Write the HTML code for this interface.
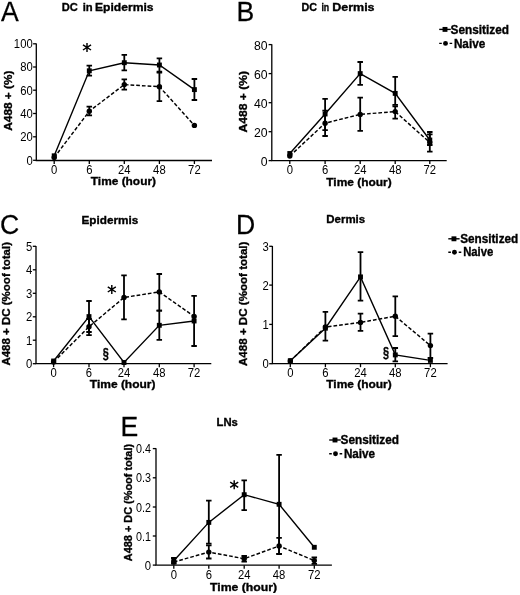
<!DOCTYPE html><html><head><meta charset="utf-8"><style>html,body{margin:0;padding:0;background:#fff;width:520px;height:595px;overflow:hidden}svg{display:block;filter:grayscale(1)}text{font-family:"Liberation Sans", sans-serif;fill:#000}text[font-weight=bold]{stroke:#000;stroke-width:0.35px}</style></head><body>
<svg width="520" height="595" viewBox="0 0 520 595">
<path d="M36.3 43.5V160.5H212" fill="none" stroke="#000" stroke-width="1.3"/>
<path d="M33.1 43.8H36.3" stroke="#000" stroke-width="1.3"/>
<g transform="translate(32.7,0) scale(0.83,1) translate(-32.7,0)">
<text x="32.7" y="48.3" font-size="13.6" text-anchor="end" >100</text>
</g>
<path d="M33.1 67H36.3" stroke="#000" stroke-width="1.3"/>
<g transform="translate(32.7,0) scale(0.83,1) translate(-32.7,0)">
<text x="32.7" y="71.5" font-size="13.6" text-anchor="end" >80</text>
</g>
<path d="M33.1 90.2H36.3" stroke="#000" stroke-width="1.3"/>
<g transform="translate(32.7,0) scale(0.83,1) translate(-32.7,0)">
<text x="32.7" y="94.7" font-size="13.6" text-anchor="end" >60</text>
</g>
<path d="M33.1 113.5H36.3" stroke="#000" stroke-width="1.3"/>
<g transform="translate(32.7,0) scale(0.83,1) translate(-32.7,0)">
<text x="32.7" y="118" font-size="13.6" text-anchor="end" >40</text>
</g>
<path d="M33.1 136.8H36.3" stroke="#000" stroke-width="1.3"/>
<g transform="translate(32.7,0) scale(0.83,1) translate(-32.7,0)">
<text x="32.7" y="141.3" font-size="13.6" text-anchor="end" >20</text>
</g>
<path d="M33.1 160.3H36.3" stroke="#000" stroke-width="1.3"/>
<g transform="translate(32.7,0) scale(0.83,1) translate(-32.7,0)">
<text x="32.7" y="164.8" font-size="13.6" text-anchor="end" >0</text>
</g>
<path d="M54.2 160.5V164" stroke="#000" stroke-width="1.3"/>
<g transform="translate(54.2,0) scale(0.83,1) translate(-54.2,0)">
<text x="54.2" y="173.9" font-size="13.6" text-anchor="middle" >0</text>
</g>
<path d="M89.3 160.5V164" stroke="#000" stroke-width="1.3"/>
<g transform="translate(89.3,0) scale(0.83,1) translate(-89.3,0)">
<text x="89.3" y="173.9" font-size="13.6" text-anchor="middle" >6</text>
</g>
<path d="M124.3 160.5V164" stroke="#000" stroke-width="1.3"/>
<g transform="translate(124.3,0) scale(0.83,1) translate(-124.3,0)">
<text x="124.3" y="173.9" font-size="13.6" text-anchor="middle" >24</text>
</g>
<path d="M159.4 160.5V164" stroke="#000" stroke-width="1.3"/>
<g transform="translate(159.4,0) scale(0.83,1) translate(-159.4,0)">
<text x="159.4" y="173.9" font-size="13.6" text-anchor="middle" >48</text>
</g>
<path d="M194.4 160.5V164" stroke="#000" stroke-width="1.3"/>
<g transform="translate(194.4,0) scale(0.83,1) translate(-194.4,0)">
<text x="194.4" y="173.9" font-size="13.6" text-anchor="middle" >72</text>
</g>
<text x="123.4" y="185.3" font-size="11.5" font-weight="bold" text-anchor="middle" textLength="65.2" lengthAdjust="spacingAndGlyphs" >Time (hour)</text>
<g transform="translate(12.3,100.65) rotate(-90)">
<text x="0" y="0" font-size="11.5" font-weight="bold" text-anchor="middle" textLength="60.1" lengthAdjust="spacingAndGlyphs">A488 + (%)</text>
</g>
<g transform="translate(1,21) scale(0.95,1)"><text x="0" y="0" font-size="28" stroke="#000" stroke-width="0.25">A</text></g>
<text x="61.8" y="10.9" font-size="11.5" font-weight="bold" textLength="16.1" lengthAdjust="spacingAndGlyphs">DC</text>
<text x="82.7" y="10.9" font-size="11.5" font-weight="bold" textLength="10" lengthAdjust="spacingAndGlyphs">in</text>
<text x="95" y="10.9" font-size="11.5" font-weight="bold" textLength="58.6" lengthAdjust="spacingAndGlyphs">Epidermis</text>
<path d="M54.2 157.5 L89.3 111.2 L124.3 84.6 L159.4 86.7 L194.4 125.4" fill="none" stroke="#000" stroke-width="1.45" stroke-dasharray="3.7 2.0"/>
<path d="M54.2 155.8 L89.3 70.8 L124.3 62.7 L159.4 65 L194.4 89.6" fill="none" stroke="#000" stroke-width="1.4"/>
<circle cx="54.2" cy="157.5" r="2.7"/>
<path d="M89.3 106.7V115.4M86.55 106.7H92.05M86.55 115.4H92.05" stroke="#000" stroke-width="1.8" fill="none"/>
<circle cx="89.3" cy="111.2" r="2.7"/>
<path d="M124.3 79.4V89.6M121.55 79.4H127.05M121.55 89.6H127.05" stroke="#000" stroke-width="1.8" fill="none"/>
<circle cx="124.3" cy="84.6" r="2.7"/>
<path d="M159.4 71.7V101.2M156.65 71.7H162.15M156.65 101.2H162.15" stroke="#000" stroke-width="1.8" fill="none"/>
<circle cx="159.4" cy="86.7" r="2.7"/>
<circle cx="194.4" cy="125.4" r="2.7"/>
<rect x="51.75" y="153.35" width="4.9" height="4.9"/>
<path d="M89.3 65.6V75.6M86.55 65.6H92.05M86.55 75.6H92.05" stroke="#000" stroke-width="1.8" fill="none"/>
<rect x="86.85" y="68.35" width="4.9" height="4.9"/>
<path d="M124.3 54.8V70.4M121.55 54.8H127.05M121.55 70.4H127.05" stroke="#000" stroke-width="1.8" fill="none"/>
<rect x="121.85" y="60.25" width="4.9" height="4.9"/>
<path d="M159.4 58.3V72.7M156.65 58.3H162.15M156.65 72.7H162.15" stroke="#000" stroke-width="1.8" fill="none"/>
<rect x="156.95" y="62.55" width="4.9" height="4.9"/>
<path d="M194.4 79V100M191.65 79H197.15M191.65 100H197.15" stroke="#000" stroke-width="1.8" fill="none"/>
<rect x="191.95" y="87.15" width="4.9" height="4.9"/>
<path d="M87 42.9V51.9M82.97 44.79L91.03 50.01M82.97 50.01L91.03 44.79" stroke="#000" stroke-width="1.45" fill="none"/>
<path d="M271.8 44.3V160.6H446.7" fill="none" stroke="#000" stroke-width="1.3"/>
<path d="M268.6 44.6H271.8" stroke="#000" stroke-width="1.3"/>
<g transform="translate(267.6,0) scale(0.9,1) translate(-267.6,0)">
<text x="267.6" y="50" font-size="13.6" text-anchor="end" >80</text>
</g>
<path d="M268.6 73.6H271.8" stroke="#000" stroke-width="1.3"/>
<g transform="translate(267.6,0) scale(0.9,1) translate(-267.6,0)">
<text x="267.6" y="79" font-size="13.6" text-anchor="end" >60</text>
</g>
<path d="M268.6 102.7H271.8" stroke="#000" stroke-width="1.3"/>
<g transform="translate(267.6,0) scale(0.9,1) translate(-267.6,0)">
<text x="267.6" y="108.1" font-size="13.6" text-anchor="end" >40</text>
</g>
<path d="M268.6 131.7H271.8" stroke="#000" stroke-width="1.3"/>
<g transform="translate(267.6,0) scale(0.9,1) translate(-267.6,0)">
<text x="267.6" y="137.1" font-size="13.6" text-anchor="end" >20</text>
</g>
<path d="M268.6 160.6H271.8" stroke="#000" stroke-width="1.3"/>
<g transform="translate(267.6,0) scale(0.9,1) translate(-267.6,0)">
<text x="267.6" y="166" font-size="13.6" text-anchor="end" >0</text>
</g>
<path d="M289.8 160.6V164.1" stroke="#000" stroke-width="1.3"/>
<g transform="translate(289.8,0) scale(0.83,1) translate(-289.8,0)">
<text x="289.8" y="174" font-size="13.6" text-anchor="middle" >0</text>
</g>
<path d="M325.1 160.6V164.1" stroke="#000" stroke-width="1.3"/>
<g transform="translate(325.1,0) scale(0.83,1) translate(-325.1,0)">
<text x="325.1" y="174" font-size="13.6" text-anchor="middle" >6</text>
</g>
<path d="M360.2 160.6V164.1" stroke="#000" stroke-width="1.3"/>
<g transform="translate(360.2,0) scale(0.83,1) translate(-360.2,0)">
<text x="360.2" y="174" font-size="13.6" text-anchor="middle" >24</text>
</g>
<path d="M395.2 160.6V164.1" stroke="#000" stroke-width="1.3"/>
<g transform="translate(395.2,0) scale(0.83,1) translate(-395.2,0)">
<text x="395.2" y="174" font-size="13.6" text-anchor="middle" >48</text>
</g>
<path d="M429.8 160.6V164.1" stroke="#000" stroke-width="1.3"/>
<g transform="translate(429.8,0) scale(0.83,1) translate(-429.8,0)">
<text x="429.8" y="174" font-size="13.6" text-anchor="middle" >72</text>
</g>
<text x="359" y="185.6" font-size="11.5" font-weight="bold" text-anchor="middle" textLength="65.5" lengthAdjust="spacingAndGlyphs" >Time (hour)</text>
<g transform="translate(247,101.7) rotate(-90)">
<text x="0" y="0" font-size="11.5" font-weight="bold" text-anchor="middle" textLength="61.4" lengthAdjust="spacingAndGlyphs">A488 + (%)</text>
</g>
<g transform="translate(236.5,20.8) scale(0.95,1)"><text x="0" y="0" font-size="28" stroke="#000" stroke-width="0.25">B</text></g>
<text x="301.4" y="10.9" font-size="11.5" font-weight="bold" textLength="15.5" lengthAdjust="spacingAndGlyphs">DC</text>
<text x="321.4" y="10.9" font-size="11.5" font-weight="bold" textLength="7.8" lengthAdjust="spacingAndGlyphs">in</text>
<text x="332.2" y="10.9" font-size="11.5" font-weight="bold" textLength="42.4" lengthAdjust="spacingAndGlyphs">Dermis</text>
<path d="M289.8 156 L325.1 123.2 L360.2 114.4 L395.2 111.6 L429.8 142.5" fill="none" stroke="#000" stroke-width="1.45" stroke-dasharray="3.7 2.0"/>
<path d="M289.8 153.5 L325.1 114 L360.2 73.6 L395.2 93.4 L429.8 140" fill="none" stroke="#000" stroke-width="1.4"/>
<circle cx="289.8" cy="156" r="2.7"/>
<path d="M325.1 110.6V136M322.35 110.6H327.85M322.35 136H327.85" stroke="#000" stroke-width="1.8" fill="none"/>
<circle cx="325.1" cy="123.2" r="2.7"/>
<path d="M360.2 97.6V130.8M357.45 97.6H362.95M357.45 130.8H362.95" stroke="#000" stroke-width="1.8" fill="none"/>
<circle cx="360.2" cy="114.4" r="2.7"/>
<path d="M395.2 106.4V118.7M392.45 106.4H397.95M392.45 118.7H397.95" stroke="#000" stroke-width="1.8" fill="none"/>
<circle cx="395.2" cy="111.6" r="2.7"/>
<path d="M429.8 134.3V145M427.05 134.3H432.55M427.05 145H432.55" stroke="#000" stroke-width="1.8" fill="none"/>
<circle cx="429.8" cy="142.5" r="2.7"/>
<rect x="287.35" y="151.05" width="4.9" height="4.9"/>
<path d="M325.1 98.9V130.2M322.35 98.9H327.85M322.35 130.2H327.85" stroke="#000" stroke-width="1.8" fill="none"/>
<rect x="322.65" y="111.55" width="4.9" height="4.9"/>
<path d="M360.2 62V84.9M357.45 62H362.95M357.45 84.9H362.95" stroke="#000" stroke-width="1.8" fill="none"/>
<rect x="357.75" y="71.15" width="4.9" height="4.9"/>
<path d="M395.2 76.8V104.8M392.45 76.8H397.95M392.45 104.8H397.95" stroke="#000" stroke-width="1.8" fill="none"/>
<rect x="392.75" y="90.95" width="4.9" height="4.9"/>
<path d="M429.8 132V151.7M427.05 132H432.55M427.05 151.7H432.55" stroke="#000" stroke-width="1.8" fill="none"/>
<rect x="427.35" y="137.55" width="4.9" height="4.9"/>
<path d="M36 246V363.7H211.3" fill="none" stroke="#000" stroke-width="1.3"/>
<path d="M32.8 246.3H36" stroke="#000" stroke-width="1.3"/>
<g transform="translate(32.4,0) scale(0.83,1) translate(-32.4,0)">
<text x="32.4" y="250.8" font-size="13.6" text-anchor="end" >5</text>
</g>
<path d="M32.8 269.8H36" stroke="#000" stroke-width="1.3"/>
<g transform="translate(32.4,0) scale(0.83,1) translate(-32.4,0)">
<text x="32.4" y="274.3" font-size="13.6" text-anchor="end" >4</text>
</g>
<path d="M32.8 293.3H36" stroke="#000" stroke-width="1.3"/>
<g transform="translate(32.4,0) scale(0.83,1) translate(-32.4,0)">
<text x="32.4" y="297.8" font-size="13.6" text-anchor="end" >3</text>
</g>
<path d="M32.8 316.8H36" stroke="#000" stroke-width="1.3"/>
<g transform="translate(32.4,0) scale(0.83,1) translate(-32.4,0)">
<text x="32.4" y="321.3" font-size="13.6" text-anchor="end" >2</text>
</g>
<path d="M32.8 340.2H36" stroke="#000" stroke-width="1.3"/>
<g transform="translate(32.4,0) scale(0.83,1) translate(-32.4,0)">
<text x="32.4" y="344.7" font-size="13.6" text-anchor="end" >1</text>
</g>
<path d="M32.8 363.7H36" stroke="#000" stroke-width="1.3"/>
<g transform="translate(32.4,0) scale(0.83,1) translate(-32.4,0)">
<text x="32.4" y="368.2" font-size="13.6" text-anchor="end" >0</text>
</g>
<path d="M53.6 363.7V367.2" stroke="#000" stroke-width="1.3"/>
<g transform="translate(53.6,0) scale(0.83,1) translate(-53.6,0)">
<text x="53.6" y="377.1" font-size="13.6" text-anchor="middle" >0</text>
</g>
<path d="M89 363.7V367.2" stroke="#000" stroke-width="1.3"/>
<g transform="translate(89,0) scale(0.83,1) translate(-89,0)">
<text x="89" y="377.1" font-size="13.6" text-anchor="middle" >6</text>
</g>
<path d="M124 363.7V367.2" stroke="#000" stroke-width="1.3"/>
<g transform="translate(124,0) scale(0.83,1) translate(-124,0)">
<text x="124" y="377.1" font-size="13.6" text-anchor="middle" >24</text>
</g>
<path d="M159.3 363.7V367.2" stroke="#000" stroke-width="1.3"/>
<g transform="translate(159.3,0) scale(0.83,1) translate(-159.3,0)">
<text x="159.3" y="377.1" font-size="13.6" text-anchor="middle" >48</text>
</g>
<path d="M194.1 363.7V367.2" stroke="#000" stroke-width="1.3"/>
<g transform="translate(194.1,0) scale(0.83,1) translate(-194.1,0)">
<text x="194.1" y="377.1" font-size="13.6" text-anchor="middle" >72</text>
</g>
<text x="122.65" y="388" font-size="11.5" font-weight="bold" text-anchor="middle" textLength="65.7" lengthAdjust="spacingAndGlyphs" >Time (hour)</text>
<g transform="translate(10.2,303.8) rotate(-90)">
<text x="0" y="0" font-size="11.5" font-weight="bold" text-anchor="middle" textLength="123.6" lengthAdjust="spacingAndGlyphs">A488 + DC  (%oof total)</text>
</g>
<g transform="translate(0,234) scale(0.95,1)"><text x="0" y="0" font-size="28" stroke="#000" stroke-width="0.25">C</text></g>
<text x="81.5" y="223.6" font-size="11.5" font-weight="bold" textLength="56.8" lengthAdjust="spacingAndGlyphs">Epidermis</text>
<path d="M53.6 362 L89 326.8 L124 297.5 L159.3 291.9 L194.1 316.4" fill="none" stroke="#000" stroke-width="1.45" stroke-dasharray="3.7 2.0"/>
<path d="M53.6 361 L89 316.6 L124 362.5 L159.3 325.3 L194.1 321" fill="none" stroke="#000" stroke-width="1.4"/>
<circle cx="53.6" cy="362" r="2.7"/>
<path d="M89 319V335.1M86.25 319H91.75M86.25 335.1H91.75" stroke="#000" stroke-width="1.8" fill="none"/>
<circle cx="89" cy="326.8" r="2.7"/>
<path d="M124 275.4V319.4M121.25 275.4H126.75M121.25 319.4H126.75" stroke="#000" stroke-width="1.8" fill="none"/>
<circle cx="124" cy="297.5" r="2.7"/>
<path d="M159.3 274V310.7M156.55 274H162.05M156.55 310.7H162.05" stroke="#000" stroke-width="1.8" fill="none"/>
<circle cx="159.3" cy="291.9" r="2.7"/>
<circle cx="194.1" cy="316.4" r="2.7"/>
<rect x="51.15" y="358.55" width="4.9" height="4.9"/>
<path d="M89 301V332M86.25 301H91.75M86.25 332H91.75" stroke="#000" stroke-width="1.8" fill="none"/>
<rect x="86.55" y="314.15" width="4.9" height="4.9"/>
<rect x="121.55" y="360.05" width="4.9" height="4.9"/>
<path d="M159.3 310.7V339.9M156.55 310.7H162.05M156.55 339.9H162.05" stroke="#000" stroke-width="1.8" fill="none"/>
<rect x="156.85" y="322.85" width="4.9" height="4.9"/>
<path d="M194.1 295.9V346M191.35 295.9H196.85M191.35 346H196.85" stroke="#000" stroke-width="1.8" fill="none"/>
<rect x="191.65" y="318.55" width="4.9" height="4.9"/>
<path d="M111.8 284.9V293.9M107.77 286.79L115.83 292.01M107.77 292.01L115.83 286.79" stroke="#000" stroke-width="1.45" fill="none"/>
<g transform="translate(105.9,0) scale(0.75,1) translate(-105.9,0)">
<text x="105.9" y="357.9" font-size="14.5" font-weight="bold" text-anchor="middle" >&#167;</text>
</g>
<path d="M272.4 246V363.7H447.6" fill="none" stroke="#000" stroke-width="1.3"/>
<path d="M269.2 246.3H272.4" stroke="#000" stroke-width="1.3"/>
<g transform="translate(268.8,0) scale(0.83,1) translate(-268.8,0)">
<text x="268.8" y="250.8" font-size="13.6" text-anchor="end" >3</text>
</g>
<path d="M269.2 285.1H272.4" stroke="#000" stroke-width="1.3"/>
<g transform="translate(268.8,0) scale(0.83,1) translate(-268.8,0)">
<text x="268.8" y="289.6" font-size="13.6" text-anchor="end" >2</text>
</g>
<path d="M269.2 324.4H272.4" stroke="#000" stroke-width="1.3"/>
<g transform="translate(268.8,0) scale(0.83,1) translate(-268.8,0)">
<text x="268.8" y="328.9" font-size="13.6" text-anchor="end" >1</text>
</g>
<path d="M269.2 363.7H272.4" stroke="#000" stroke-width="1.3"/>
<g transform="translate(268.8,0) scale(0.83,1) translate(-268.8,0)">
<text x="268.8" y="368.2" font-size="13.6" text-anchor="end" >0</text>
</g>
<path d="M290.3 363.7V367.2" stroke="#000" stroke-width="1.3"/>
<g transform="translate(290.3,0) scale(0.83,1) translate(-290.3,0)">
<text x="290.3" y="377.1" font-size="13.6" text-anchor="middle" >0</text>
</g>
<path d="M325.4 363.7V367.2" stroke="#000" stroke-width="1.3"/>
<g transform="translate(325.4,0) scale(0.83,1) translate(-325.4,0)">
<text x="325.4" y="377.1" font-size="13.6" text-anchor="middle" >6</text>
</g>
<path d="M360.5 363.7V367.2" stroke="#000" stroke-width="1.3"/>
<g transform="translate(360.5,0) scale(0.83,1) translate(-360.5,0)">
<text x="360.5" y="377.1" font-size="13.6" text-anchor="middle" >24</text>
</g>
<path d="M395.3 363.7V367.2" stroke="#000" stroke-width="1.3"/>
<g transform="translate(395.3,0) scale(0.83,1) translate(-395.3,0)">
<text x="395.3" y="377.1" font-size="13.6" text-anchor="middle" >48</text>
</g>
<path d="M430.4 363.7V367.2" stroke="#000" stroke-width="1.3"/>
<g transform="translate(430.4,0) scale(0.83,1) translate(-430.4,0)">
<text x="430.4" y="377.1" font-size="13.6" text-anchor="middle" >72</text>
</g>
<text x="359" y="388" font-size="11.5" font-weight="bold" text-anchor="middle" textLength="65.5" lengthAdjust="spacingAndGlyphs" >Time (hour)</text>
<g transform="translate(247.2,303.8) rotate(-90)">
<text x="0" y="0" font-size="11.5" font-weight="bold" text-anchor="middle" textLength="124.4" lengthAdjust="spacingAndGlyphs">A488 + DC  (%oof total)</text>
</g>
<g transform="translate(236,233.8) scale(0.95,1)"><text x="0" y="0" font-size="28" stroke="#000" stroke-width="0.25">D</text></g>
<text x="326.3" y="223.4" font-size="11.5" font-weight="bold" textLength="38.9" lengthAdjust="spacingAndGlyphs">Dermis</text>
<path d="M290.3 361 L325.4 327 L360.5 322.4 L395.3 316.2 L430.4 345.6" fill="none" stroke="#000" stroke-width="1.45" stroke-dasharray="3.7 2.0"/>
<path d="M290.3 360.7 L325.4 328.2 L360.5 276.9 L395.3 354.9 L430.4 360.4" fill="none" stroke="#000" stroke-width="1.4"/>
<circle cx="290.3" cy="361" r="2.7"/>
<circle cx="325.4" cy="327" r="2.7"/>
<path d="M360.5 313.6V330.8M357.75 313.6H363.25M357.75 330.8H363.25" stroke="#000" stroke-width="1.8" fill="none"/>
<circle cx="360.5" cy="322.4" r="2.7"/>
<path d="M395.3 296.4V336.2M392.55 296.4H398.05M392.55 336.2H398.05" stroke="#000" stroke-width="1.8" fill="none"/>
<circle cx="395.3" cy="316.2" r="2.7"/>
<path d="M430.4 333.6V358M427.65 333.6H433.15M427.65 358H433.15" stroke="#000" stroke-width="1.8" fill="none"/>
<circle cx="430.4" cy="345.6" r="2.7"/>
<rect x="287.85" y="358.25" width="4.9" height="4.9"/>
<path d="M325.4 311.8V340.7M322.65 311.8H328.15M322.65 340.7H328.15" stroke="#000" stroke-width="1.8" fill="none"/>
<rect x="322.95" y="325.75" width="4.9" height="4.9"/>
<path d="M360.5 252.2V300.7M357.75 252.2H363.25M357.75 300.7H363.25" stroke="#000" stroke-width="1.8" fill="none"/>
<rect x="358.05" y="274.45" width="4.9" height="4.9"/>
<path d="M395.3 348V361.3M392.55 348H398.05M392.55 361.3H398.05" stroke="#000" stroke-width="1.8" fill="none"/>
<rect x="392.85" y="352.45" width="4.9" height="4.9"/>
<rect x="427.95" y="357.95" width="4.9" height="4.9"/>
<g transform="translate(386,0) scale(0.75,1) translate(-386,0)">
<text x="386" y="357" font-size="14.5" font-weight="bold" text-anchor="middle" >&#167;</text>
</g>
<path d="M156 448.3V565.2H331.9" fill="none" stroke="#000" stroke-width="1.3"/>
<path d="M152.8 448.6H156" stroke="#000" stroke-width="1.3"/>
<text x="151" y="453.1" font-size="13.6" text-anchor="end" textLength="15" lengthAdjust="spacingAndGlyphs">0.4</text>
<path d="M152.8 477.8H156" stroke="#000" stroke-width="1.3"/>
<text x="151" y="482.3" font-size="13.6" text-anchor="end" textLength="15" lengthAdjust="spacingAndGlyphs">0.3</text>
<path d="M152.8 507H156" stroke="#000" stroke-width="1.3"/>
<text x="151" y="511.5" font-size="13.6" text-anchor="end" textLength="15" lengthAdjust="spacingAndGlyphs">0.2</text>
<path d="M152.8 536H156" stroke="#000" stroke-width="1.3"/>
<text x="151" y="540.5" font-size="13.6" text-anchor="end" textLength="15" lengthAdjust="spacingAndGlyphs">0.1</text>
<path d="M152.8 565.1H156" stroke="#000" stroke-width="1.3"/>
<g transform="translate(151,0) scale(0.83,1) translate(-151,0)">
<text x="151" y="569.6" font-size="13.6" text-anchor="end" >0</text>
</g>
<path d="M173.8 565.2V568.7" stroke="#000" stroke-width="1.3"/>
<g transform="translate(173.8,0) scale(0.83,1) translate(-173.8,0)">
<text x="173.8" y="578.6" font-size="13.6" text-anchor="middle" >0</text>
</g>
<path d="M208.8 565.2V568.7" stroke="#000" stroke-width="1.3"/>
<g transform="translate(208.8,0) scale(0.83,1) translate(-208.8,0)">
<text x="208.8" y="578.6" font-size="13.6" text-anchor="middle" >6</text>
</g>
<path d="M244.2 565.2V568.7" stroke="#000" stroke-width="1.3"/>
<g transform="translate(244.2,0) scale(0.83,1) translate(-244.2,0)">
<text x="244.2" y="578.6" font-size="13.6" text-anchor="middle" >24</text>
</g>
<path d="M279.1 565.2V568.7" stroke="#000" stroke-width="1.3"/>
<g transform="translate(279.1,0) scale(0.83,1) translate(-279.1,0)">
<text x="279.1" y="578.6" font-size="13.6" text-anchor="middle" >48</text>
</g>
<path d="M314.3 565.2V568.7" stroke="#000" stroke-width="1.3"/>
<g transform="translate(314.3,0) scale(0.83,1) translate(-314.3,0)">
<text x="314.3" y="578.6" font-size="13.6" text-anchor="middle" >72</text>
</g>
<text x="243.6" y="590.5" font-size="11.5" font-weight="bold" text-anchor="middle" textLength="67.2" lengthAdjust="spacingAndGlyphs" >Time (hour)</text>
<g transform="translate(132.4,502.55) rotate(-90)">
<text x="0" y="0" font-size="11.5" font-weight="bold" text-anchor="middle" textLength="117.3" lengthAdjust="spacingAndGlyphs">A488 + DC  (%oof total)</text>
</g>
<g transform="translate(120.6,435.5) scale(0.95,1)"><text x="0" y="0" font-size="28" stroke="#000" stroke-width="0.25">E</text></g>
<text x="216.5" y="425.5" font-size="11.5" font-weight="bold" textLength="21.3" lengthAdjust="spacingAndGlyphs">LNs</text>
<path d="M173.8 562 L208.8 552.1 L244.2 558.7 L279.1 546 L314.3 560.6" fill="none" stroke="#000" stroke-width="1.45" stroke-dasharray="3.7 2.0"/>
<path d="M173.8 560.8 L208.8 522.4 L244.2 494.7 L279.1 504.3 L314.3 547.3" fill="none" stroke="#000" stroke-width="1.4"/>
<circle cx="173.8" cy="562" r="2.7"/>
<path d="M208.8 545.4V558.5M206.05 545.4H211.55M206.05 558.5H211.55" stroke="#000" stroke-width="1.8" fill="none"/>
<circle cx="208.8" cy="552.1" r="2.7"/>
<path d="M244.2 556V561.6M241.45 556H246.95M241.45 561.6H246.95" stroke="#000" stroke-width="1.8" fill="none"/>
<circle cx="244.2" cy="558.7" r="2.7"/>
<path d="M279.1 537.9V554M276.35 537.9H281.85M276.35 554H281.85" stroke="#000" stroke-width="1.8" fill="none"/>
<circle cx="279.1" cy="546" r="2.7"/>
<path d="M314.3 557.5V563.8M311.55 557.5H317.05M311.55 563.8H317.05" stroke="#000" stroke-width="1.8" fill="none"/>
<circle cx="314.3" cy="560.6" r="2.7"/>
<path d="M173.8 558V563.6M171.05 558H176.55M171.05 563.6H176.55" stroke="#000" stroke-width="1.8" fill="none"/>
<rect x="171.35" y="558.35" width="4.9" height="4.9"/>
<path d="M208.8 500.6V543.6M206.05 500.6H211.55M206.05 543.6H211.55" stroke="#000" stroke-width="1.8" fill="none"/>
<rect x="206.35" y="519.95" width="4.9" height="4.9"/>
<path d="M244.2 480.4V510.2M241.45 480.4H246.95M241.45 510.2H246.95" stroke="#000" stroke-width="1.8" fill="none"/>
<rect x="241.75" y="492.25" width="4.9" height="4.9"/>
<path d="M279.1 454.8V553.8M276.35 454.8H281.85M276.35 553.8H281.85" stroke="#000" stroke-width="1.8" fill="none"/>
<rect x="276.65" y="501.85" width="4.9" height="4.9"/>
<rect x="311.85" y="544.85" width="4.9" height="4.9"/>
<path d="M234.2 480.3V489.3M230.17 482.19L238.23 487.41M230.17 487.41L238.23 482.19" stroke="#000" stroke-width="1.45" fill="none"/>
<path d="M439.2 29.4H450.8" stroke="#000" stroke-width="1.4"/>
<rect x="442.55" y="26.95" width="4.9" height="4.9"/>
<text x="450.6" y="33.7" font-size="12" font-weight="bold" textLength="58.4" lengthAdjust="spacingAndGlyphs" >Sensitized</text>
<path d="M439.2 43.4H452.8" stroke="#000" stroke-width="1.4" stroke-dasharray="2.6 2.6"/>
<circle cx="445.5" cy="43.4" r="2.45"/>
<text x="453.9" y="47.5" font-size="12" font-weight="bold" textLength="31.3" lengthAdjust="spacingAndGlyphs" >Naive</text>
<path d="M448.3 238.8H459.6" stroke="#000" stroke-width="1.4"/>
<rect x="451.5" y="236.35" width="4.9" height="4.9"/>
<text x="460.2" y="242.6" font-size="12" font-weight="bold" textLength="58" lengthAdjust="spacingAndGlyphs" >Sensitized</text>
<path d="M448.3 252.2H461.6" stroke="#000" stroke-width="1.4" stroke-dasharray="2.6 2.6"/>
<circle cx="454.45" cy="252.2" r="2.45"/>
<text x="463.2" y="255.7" font-size="12" font-weight="bold" textLength="30.1" lengthAdjust="spacingAndGlyphs" >Naive</text>
<path d="M329.2 440H340.8" stroke="#000" stroke-width="1.4"/>
<rect x="332.55" y="437.55" width="4.9" height="4.9"/>
<text x="340.6" y="444" font-size="12" font-weight="bold" textLength="58.4" lengthAdjust="spacingAndGlyphs" >Sensitized</text>
<path d="M329.2 453.8H342.8" stroke="#000" stroke-width="1.4" stroke-dasharray="2.6 2.6"/>
<circle cx="335.5" cy="453.8" r="2.45"/>
<text x="343.9" y="457.6" font-size="12" font-weight="bold" textLength="31.2" lengthAdjust="spacingAndGlyphs" >Naive</text>
</svg></body></html>
